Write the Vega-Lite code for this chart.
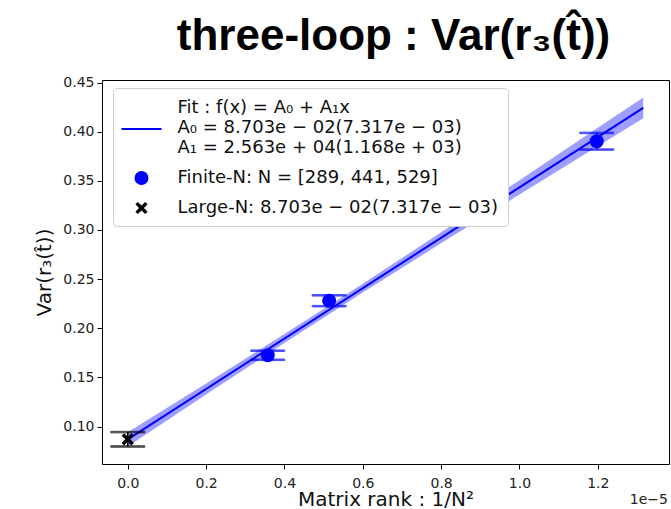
{
  "$schema": "https://vega.github.io/schema/vega-lite/v6.json",
  "autosize": "none",
  "padding": {"left": 102, "top": 80, "right": 2, "bottom": 45},
  "width": 567,
  "height": 384,
  "background": "white",
  "title": {
    "text": "three-loop : Var(r₃(t̂))",
    "font": "Liberation Sans",
    "fontSize": 44,
    "fontWeight": "bold",
    "color": "#000",
    "anchor": "middle",
    "frame": "group",
    "baseline": "alphabetic",
    "offset": 30,
    "dx": 8,
    "dy": 48
  },
  "config": {
    "view": {"stroke": "#000", "strokeWidth": 1},
    "axis": {
      "domain": false,
      "grid": false,
      "tickColor": "#000",
      "tickSize": 5,
      "tickWidth": 1,
      "labelFont": "DejaVu Sans",
      "labelFontSize": 14,
      "labelColor": "#222",
      "labelPadding": 3,
      "titleFont": "DejaVu Sans",
      "titleFontSize": 20,
      "titleFontWeight": "normal",
      "titleColor": "#111"
    },
    "legend": {
      "orient": "none",
      "legendX": 11,
      "legendY": 8,
      "fillColor": "white",
      "strokeColor": "#cccccc",
      "cornerRadius": 4,
      "padding": 9,
      "labelFont": "DejaVu Sans",
      "labelFontSize": 18,
      "labelColor": "#111",
      "labelLimit": 600,
      "labelOffset": 25,
      "symbolOffset": 8.5,
      "rowPadding": 12
    }
  },
  "datasets": {
    "points": [
      {"series": "Finite-N: N = [289, 441, 529]", "x": 1.1973e-5, "var": 0.3903, "lo": 0.3818, "hi": 0.3988},
      {"series": "Finite-N: N = [289, 441, 529]", "x": 5.1419e-6, "var": 0.2280, "lo": 0.2225, "hi": 0.2335},
      {"series": "Finite-N: N = [289, 441, 529]", "x": 3.5735e-6, "var": 0.1725, "lo": 0.1679, "hi": 0.1772},
      {"series": "Large-N: 8.703e − 02(7.317e − 03)", "x": 0, "var": 0.08703, "lo": 0.07971, "hi": 0.09435}
    ],
    "fit": [
      {"x": 0, "y": 0.08703},
      {"x": 1.316e-5, "y": 0.4243}
    ],
    "band": [
      {"x": 0, "lo": 0.0797, "hi": 0.0943},
      {"x": 2e-6, "lo": 0.1327, "hi": 0.1439},
      {"x": 4e-6, "lo": 0.1850, "hi": 0.1941},
      {"x": 6e-6, "lo": 0.2363, "hi": 0.2453},
      {"x": 8e-6, "lo": 0.2865, "hi": 0.2977},
      {"x": 1e-5, "lo": 0.3360, "hi": 0.3506},
      {"x": 1.2e-5, "lo": 0.3853, "hi": 0.4039},
      {"x": 1.316e-5, "lo": 0.4138, "hi": 0.4348}
    ],
    "note": [{"text": "1e−5"}]
  },
  "layer": [
    {
      "data": {"name": "band"},
      "mark": {"type": "area", "color": "blue", "opacity": 0.38},
      "encoding": {
        "x": {
          "field": "x", "type": "quantitative",
          "scale": {"domain": [-6.58e-7, 1.3818e-5], "nice": false, "zero": false},
          "axis": {
            "values": [0, 2e-6, 4e-6, 6e-6, 8e-6, 1e-5, 1.2e-5],
            "labelExpr": "format(datum.value * 1e5, '.1f')",
            "labelPadding": 7,
            "title": "Matrix rank : 1/N²",
            "titlePadding": -1
          }
        },
        "y": {
          "field": "lo", "type": "quantitative",
          "scale": {"domain": [0.0619, 0.4526], "nice": false, "zero": false},
          "axis": {
            "values": [0.1, 0.15, 0.2, 0.25, 0.3, 0.35, 0.4, 0.45],
            "format": ".2f",
            "title": "Var(r₃(t̂))",
            "titlePadding": 8
          }
        },
        "y2": {"field": "hi"}
      }
    },
    {
      "data": {"name": "fit"},
      "mark": {"type": "line", "color": "blue", "strokeWidth": 2},
      "encoding": {
        "x": {"field": "x", "type": "quantitative"},
        "y": {"field": "y", "type": "quantitative"}
      }
    },
    {
      "data": {"name": "points"},
      "mark": {"type": "rule", "strokeWidth": 1.5},
      "encoding": {
        "x": {"field": "x", "type": "quantitative"},
        "y": {"field": "lo", "type": "quantitative"},
        "y2": {"field": "hi"},
        "stroke": {
          "field": "series", "type": "nominal",
          "scale": {"domain": ["Finite-N: N = [289, 441, 529]", "Large-N: 8.703e − 02(7.317e − 03)"], "range": ["blue", "black"]},
          "legend": null
        }
      }
    },
    {
      "data": {"name": "points"},
      "mark": {"type": "tick", "orient": "horizontal", "size": 34, "thickness": 1.5},
      "encoding": {
        "x": {"field": "x", "type": "quantitative"},
        "y": {"field": "lo", "type": "quantitative"},
        "stroke": {"field": "series", "type": "nominal", "legend": null},
        "fill": {"field": "series", "type": "nominal", "scale": {"domain": ["Finite-N: N = [289, 441, 529]", "Large-N: 8.703e − 02(7.317e − 03)"], "range": ["blue", "black"]}, "legend": null}
      }
    },
    {
      "data": {"name": "points"},
      "mark": {"type": "tick", "orient": "horizontal", "size": 34, "thickness": 1.5},
      "encoding": {
        "x": {"field": "x", "type": "quantitative"},
        "y": {"field": "hi", "type": "quantitative"},
        "stroke": {"field": "series", "type": "nominal", "legend": null},
        "fill": {"field": "series", "type": "nominal", "legend": null}
      }
    },
    {
      "data": {"name": "points"},
      "mark": {"type": "point", "filled": true, "opacity": 1},
      "encoding": {
        "x": {"field": "x", "type": "quantitative"},
        "y": {"field": "var", "type": "quantitative"},
        "color": {
          "field": "series", "type": "nominal",
          "scale": {
            "domain": ["Fit : f(x) = A₀ + A₁x| A₀ = 8.703e − 02(7.317e − 03)| A₁ = 2.563e + 04(1.168e + 03)", "Finite-N: N = [289, 441, 529]", "Large-N: 8.703e − 02(7.317e − 03)"],
            "range": ["blue", "blue", "black"]
          },
          "legend": {"title": null, "labelExpr": "split(datum.label, '|')"}
        },
        "shape": {
          "field": "series", "type": "nominal",
          "scale": {
            "domain": ["Fit : f(x) = A₀ + A₁x| A₀ = 8.703e − 02(7.317e − 03)| A₁ = 2.563e + 04(1.168e + 03)", "Finite-N: N = [289, 441, 529]", "Large-N: 8.703e − 02(7.317e − 03)"],
            "range": ["M-2,2.0L2,2.0L2,2.2L-2,2.2Z", "circle", "M-1,-0.6L-0.6,-1L0,-0.4L0.6,-1L1,-0.6L0.4,0L1,0.6L0.6,1L0,0.4L-0.6,1L-1,0.6L-0.4,0Z"]
          },
          "legend": {"title": null, "labelExpr": "split(datum.label, '|')"}
        },
        "size": {
          "field": "series", "type": "nominal",
          "scale": {
            "type": "ordinal",
            "domain": ["Fit : f(x) = A₀ + A₁x| A₀ = 8.703e − 02(7.317e − 03)| A₁ = 2.563e + 04(1.168e + 03)", "Finite-N: N = [289, 441, 529]", "Large-N: 8.703e − 02(7.317e − 03)"],
            "range": [400, 196, 150]
          },
          "legend": {"title": null, "labelExpr": "split(datum.label, '|')"}
        }
      }
    },
    {
      "data": {"name": "note"},
      "mark": {"type": "text", "align": "right", "baseline": "alphabetic", "dy": 40, "dx": -1, "font": "DejaVu Sans", "fontSize": 14, "color": "#222"},
      "encoding": {
        "text": {"field": "text", "type": "nominal"},
        "x": {"datum": 1.3818e-5, "type": "quantitative"},
        "y": {"datum": 0.0619, "type": "quantitative"}
      }
    }
  ]
}
